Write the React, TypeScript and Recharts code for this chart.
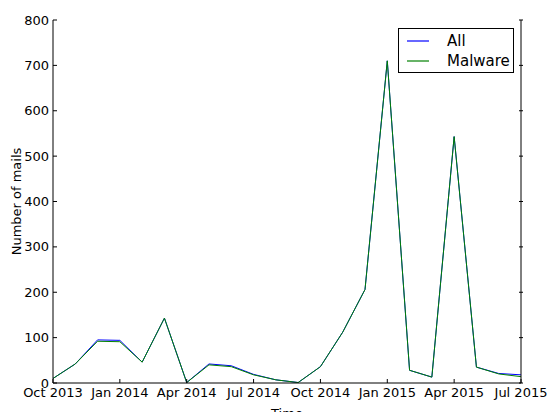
import React from 'react';
import { LineChart, Line, XAxis, YAxis, Legend } from 'recharts';

// monthly counts, Oct 2013 .. Jul 2015
const months = [
  '2013-10', '2013-11', '2013-12', '2014-01', '2014-02', '2014-03', '2014-04', '2014-05',
  '2014-06', '2014-07', '2014-08', '2014-09', '2014-10', '2014-11', '2014-12', '2015-01',
  '2015-02', '2015-03', '2015-04', '2015-05', '2015-06', '2015-07',
];
const allMails = [10, 42, 95, 94, 46, 143, 1, 42, 38, 19, 7, 1, 36, 112, 206, 710, 28, 13, 543, 35, 21, 18];
const malwareMails = [10, 42, 92, 91, 46, 143, 1, 40, 36, 18, 7, 1, 36, 112, 206, 710, 28, 13, 543, 35, 20, 14];

const xTicks = [0, 3, 6, 9, 12, 15, 18, 21];
const xTickLabels = ['Oct 2013', 'Jan 2014', 'Apr 2014', 'Jul 2014', 'Oct 2014', 'Jan 2015', 'Apr 2015', 'Jul 2015'];
const yTicks = [0, 100, 200, 300, 400, 500, 600, 700, 800];

const data = months.map((m, i) => ({ idx: i, month: m, all: allMails[i], malware: malwareMails[i] }));

const FONT = 'DejaVu Sans, sans-serif';

const BottomTick = (props: any) => {
  const { x, y, payload } = props;
  const label = xTickLabels[xTicks.indexOf(payload.value)];
  return (
    <g>
      <line x1={x} x2={x} y1={y} y2={y - 4} stroke="#000" />
      <text x={x} y={y + 14} textAnchor="middle" fontFamily={FONT} fontSize={13} fill="#000">
        {label}
      </text>
    </g>
  );
};

const TopTick = (props: any) => {
  const { x, y } = props;
  return <line x1={x} x2={x} y1={y} y2={y + 4} stroke="#000" />;
};

const LeftTick = (props: any) => {
  const { x, y, payload } = props;
  return (
    <g>
      <line x1={x} x2={x + 4} y1={y} y2={y} stroke="#000" />
      <text x={x - 4} y={y} dy="0.35em" textAnchor="end" fontFamily={FONT} fontSize={13} fill="#000">
        {payload.value}
      </text>
    </g>
  );
};

const RightTick = (props: any) => {
  const { x, y } = props;
  return <line x1={x} x2={x - 4} y1={y} y2={y} stroke="#000" />;
};

const legendItems = [
  { name: 'All', color: '#0000ff' },
  { name: 'Malware', color: '#008000' },
];

const LegendBox = () => (
  <div
    style={{
      border: '1px solid #000',
      background: '#fff',
      width: 116,
      height: 45,
      boxSizing: 'border-box',
      fontFamily: FONT,
      fontSize: 15,
      padding: '2px 0 0 8px',
      textAlign: 'left',
    }}
  >
    {legendItems.map((e) => (
      <div key={e.name} style={{ display: 'flex', alignItems: 'center', height: 20 }}>
        <svg width={22} height={4} style={{ marginRight: 18 }}>
          <line x1={0} x2={22} y1={2} y2={2} stroke={e.color} strokeWidth={1.2} />
        </svg>
        <span>{e.name}</span>
      </div>
    ))}
  </div>
);

export default function App() {
  return (
    <div style={{ position: 'absolute', left: 0, top: 0, width: 547, height: 412, background: '#fff' }}>
      <LineChart width={547} height={412} data={data} margin={{ top: 20, right: 0, bottom: 0, left: 0 }}>
        <XAxis
          dataKey="idx"
          type="number"
          domain={[0, 21]}
          ticks={xTicks}
          interval={0}
          height={29}
          tickSize={0}
          tickMargin={0}
          tickLine={false}
          axisLine={{ stroke: '#000' }}
          tick={<BottomTick />}
          label={{ value: 'Time', position: 'insideBottom', offset: -6, fontFamily: FONT, fontSize: 13, fill: '#000' }}
        />
        <XAxis
          xAxisId="top"
          dataKey="idx"
          type="number"
          orientation="top"
          domain={[0, 21]}
          ticks={xTicks}
          interval={0}
          height={0}
          tickSize={0}
          tickLine={false}
          axisLine={{ stroke: '#000' }}
          tick={<TopTick />}
        />
        <YAxis
          type="number"
          domain={[0, 800]}
          ticks={yTicks}
          interval={0}
          width={53}
          tickSize={0}
          tickMargin={0}
          tickLine={false}
          axisLine={{ stroke: '#000' }}
          tick={<LeftTick />}
          label={{ value: 'Number of mails', angle: -90, position: 'insideLeft', offset: 16, fontFamily: FONT, fontSize: 13, fill: '#000', style: { textAnchor: 'middle' } }}
        />
        <YAxis
          yAxisId="right"
          dataKey="all"
          type="number"
          orientation="right"
          domain={[0, 800]}
          ticks={yTicks}
          interval={0}
          width={26}
          tickSize={0}
          tickLine={false}
          axisLine={{ stroke: '#000' }}
          tick={<RightTick />}
        />
        <Legend
          layout="vertical"
          verticalAlign="middle"
          align="center"
          content={<LegendBox />}
          wrapperStyle={{ position: 'absolute', top: 28, left: 398, width: 116 }}
        />
        <Line
          type="linear"
          dataKey="all"
          name="All"
          stroke="#0000ff"
          strokeWidth={1}
          dot={false}
          isAnimationActive={false}
        />
        <Line
          type="linear"
          dataKey="malware"
          name="Malware"
          stroke="#008000"
          strokeWidth={1}
          dot={false}
          isAnimationActive={false}
        />
      </LineChart>
    </div>
  );
}
